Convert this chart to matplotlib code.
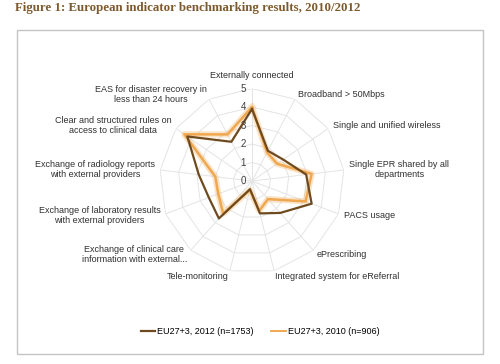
import numpy as np
import matplotlib
matplotlib.use("Agg")
import matplotlib.pyplot as plt
from matplotlib.patches import Rectangle
from matplotlib.lines import Line2D

categories = [
    "Externally connected",
    "Broadband > 50Mbps",
    "Single and unified wireless",
    "Single EPR shared by all\ndepartments",
    "PACS usage",
    "ePrescribing",
    "Integrated system for eReferral",
    "Tele-monitoring",
    "Exchange of clinical care\ninformation with external...",
    "Exchange of laboratory results\nwith external providers",
    "Exchange of radiology reports\nwith external providers",
    "Clear and structured rules on\naccess to clinical data",
    "EAS for disaster recovery in\nless than 24 hours",
]
eu_2012 = [3.9, 1.85, 2.05, 2.95, 3.45, 2.3, 1.8, 0.45, 2.7, 2.5, 2.9, 4.25, 2.4]
eu_2010 = [4.0, 1.75, 1.65, 3.25, 3.1, 1.3, 1.65, 0.5, 2.35, 1.95, 2.0, 4.45, 2.85]
series_names = ["EU27+3, 2012 (n=1753)", "EU27+3, 2010 (n=906)"]
ticks = [0, 1, 2, 3, 4, 5]

dark = "#6e4a1e"
light = "#f0a850"
grid_col = "#e4e4e4"
font = "Liberation Sans"

fig = plt.figure(figsize=(5.0, 3.64), dpi=100)
fig.patch.set_facecolor("white")

# title and frame
fig.text(0.03, 0.995, "Figure 1: European indicator benchmarking results, 2010/2012",
         ha="left", va="top", fontsize=9.3, fontweight="bold",
         family="Liberation Serif", color="#7d5a2e")
fig.patches.append(Rectangle((0.034, 0.027), 0.932, 0.89, transform=fig.transFigure,
                             fill=False, edgecolor="#c4c4c4", linewidth=1.0))

ax = fig.add_axes([0.319, 0.2485, 0.37, 0.508], projection="polar")
ax.set_theta_offset(np.pi / 2)
ax.set_theta_direction(-1)
ax.set_ylim(0, 5)
ax.grid(False)
ax.spines["polar"].set_visible(False)
ax.set_xticks([])
ax.set_yticks([])
ax.patch.set_alpha(0)

n = len(categories)
angles = np.linspace(0, 2 * np.pi, n, endpoint=False)
closed = np.concatenate([angles, angles[:1]])

# polygon grid
for t in ticks[1:]:
    ax.plot(closed, [t] * (n + 1), color=grid_col, lw=0.7, zorder=1)
for a in angles:
    ax.plot([a, a], [0, 5], color=grid_col, lw=0.7, zorder=1)

for t in ticks:
    ax.text(0, t, str(t) + "  ", ha="right", va="center", fontsize=7,
            family=font, color="#404040", zorder=5)

# series
v10 = np.concatenate([eu_2010, eu_2010[:1]])
v12 = np.concatenate([eu_2012, eu_2012[:1]])
ax.plot(closed, v10, color=light, lw=4.5, alpha=0.3, zorder=2)
ax.plot(closed, v10, color=light, lw=1.8, zorder=3)
ax.plot(closed, v12, color=dark, lw=1.6, zorder=4)

# category labels
for a, lab in zip(angles, categories):
    s = np.sin(a)
    if abs(s) < 0.05:
        ha = "center"
    elif s > 0:
        ha = "left"
    else:
        ha = "right"
    r = 5.7 if abs(s) < 0.05 else 5.3
    ax.text(a, r, lab, ha=ha, va="center", ma="center", fontsize=6.5,
            family=font, color="#303030", linespacing=1.1)

handles = [Line2D([], [], color=dark, lw=1.6), Line2D([], [], color=light, lw=1.4)]
fig.legend(handles, series_names, loc="center", bbox_to_anchor=(0.52, 0.09), ncol=2,
           frameon=False, prop={"family": font, "size": 6.5}, handlelength=1.6,
           handletextpad=0.2, columnspacing=2.0)

fig.savefig("out.png", dpi=100)
